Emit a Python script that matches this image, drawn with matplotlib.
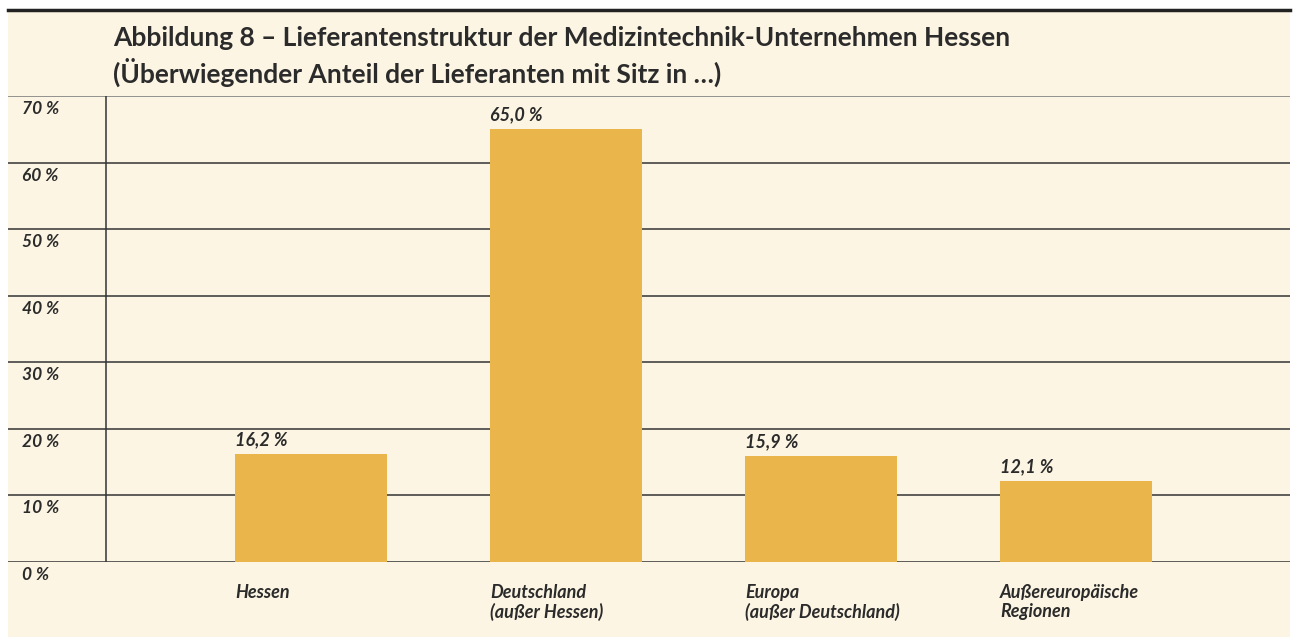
import matplotlib.pyplot as plt
from matplotlib.patches import Rectangle

# Daten
categories = ['Hessen', 'Deutschland\n(außer Hessen)', 'Europa\n(außer Deutschland)',
              'Außereuropäische\nRegionen']
shares = [16.2, 65.0, 15.9, 12.1]
value_labels = ['16,2 %', '65,0 %', '15,9 %', '12,1 %']
y_ticks = [0, 10, 20, 30, 40, 50, 60, 70]
y_tick_labels = ['0 %', '10 %', '20 %', '30 %', '40 %', '50 %', '60 %', '70 %']

bg = '#FCF5E3'
bar_color = '#EAB54A'
text_color = '#2b2b2b'
W, H = 1298, 637

plt.rcParams['font.family'] = ['Lato', 'DejaVu Sans']

fig = plt.figure(figsize=(W / 100, H / 100), dpi=100)
fig.patch.set_facecolor('white')

# cremefarbener Hintergrund + dicke Linie oben
fig.patches.append(Rectangle((8 / W, 0), (1290 - 8) / W, (H - 10) / H,
                             transform=fig.transFigure, facecolor=bg, edgecolor='none', zorder=-5))
fig.add_artist(plt.Line2D([8 / W, 1290 / W], [(H - 10) / H] * 2, transform=fig.transFigure,
                          color='#222222', lw=2.5, zorder=-4))

fig.text(113 / W, 1 - 38 / H, 'Abbildung 8 – Lieferantenstruktur der Medizintechnik-Unternehmen Hessen',
         fontsize=19, fontweight='bold', color=text_color, va='center', ha='left')
fig.text(113 / W, 1 - 72 / H, '(Überwiegender Anteil der Lieferanten mit Sitz in …)',
         fontsize=19, fontweight='bold', color=text_color, va='center', ha='left')

ax = fig.add_axes([8 / W, 1 - 562 / H, (1290 - 8) / W, (562 - 96) / H], zorder=2)
ax.set_facecolor('none')
x = list(range(len(categories)))
ax.bar(x, shares, width=0.596, color=bar_color, zorder=2)
ax.set_xlim(-1.188, 3.839)
ax.set_ylim(0, 70)
for s in ax.spines.values():
    s.set_visible(False)
ax.set_xticks([])
ax.set_yticks([])

for t, lab in zip(y_ticks, y_tick_labels):
    ax.axhline(t, color='#777777' if t == 70 else '#333333', lw=1.1, zorder=1)
    ax.annotate(lab, xy=(14 / (1290 - 8), t), xycoords=ax.get_yaxis_transform(),
                xytext=(0, -5), textcoords='offset pixels', va='top', ha='left',
                fontsize=12.5, style='italic', fontweight='bold', color=text_color,
                annotation_clip=False)
ax.axvline(-0.804, color='#333333', lw=1.1, zorder=1)

for xi, v, lab, cat in zip(x, shares, value_labels, categories):
    left = xi - 0.298
    ax.annotate(lab, xy=(left, v), xytext=(0, 6), textcoords='offset pixels',
                ha='left', va='bottom', fontsize=13, style='italic', fontweight='bold',
                color=text_color)
    ax.annotate(cat, xy=(left, 0), xytext=(0, -22), textcoords='offset pixels',
                ha='left', va='top', fontsize=13, style='italic', fontweight='bold',
                color=text_color, linespacing=1.15, annotation_clip=False)

fig.savefig('out.png', dpi=100, facecolor=fig.get_facecolor())
